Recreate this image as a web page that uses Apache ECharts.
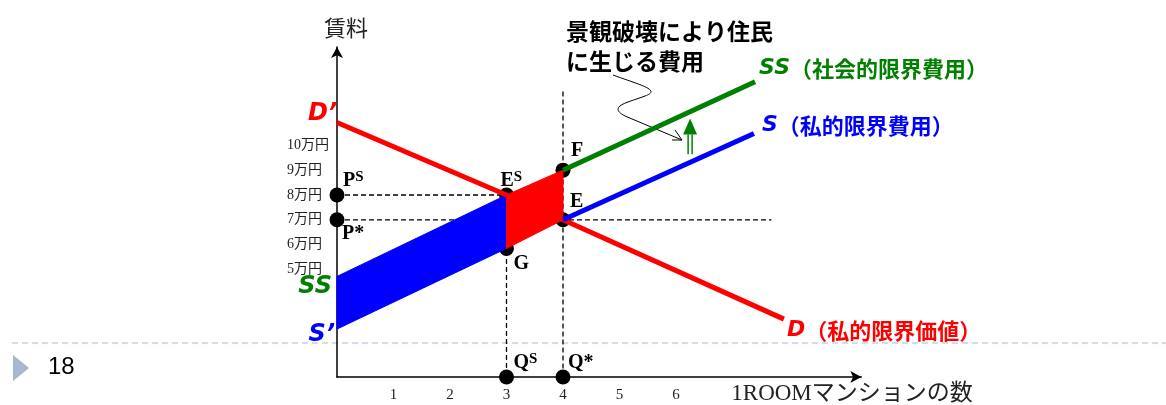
<!DOCTYPE html>
<html lang="ja">
<head>
<meta charset="utf-8">
<title>外部不経済と1ROOMマンション</title>
<script src="https://cdn.jsdelivr.net/npm/echarts@6/dist/echarts.min.js"></script>
<style>
html, body { margin: 0; padding: 0; background: #fff; }
#chart { width: 1166px; height: 405px; }
</style>
</head>
<body>
<div id="chart"></div>
<script>
// 1ROOMマンションの数
const xTicks = [1, 2, 3, 4, 5, 6]
// 賃料（万円）
const yTicks = [5, 6, 7, 8, 9, 10]
const yMin = 0.67
const yMax = 13.96
const xMax = 9.28

// D（私的限界価値）
const qtyD = [0, 3, 4, 7.91]
const valueD = [10.92, 8, 7, 3.0]
// SS（社会的限界費用）
const qtySS = [0, 3, 4, 7.4]
const costSS = [4.72, 8, 9, 12.56]
// S（私的限界費用）
const qtyS = [0, 3, 4, 7.38]
const costS = [2.6, 5.85, 7, 10.48]

// 点
const pointNames = ['PS', 'P*', 'ES', 'G', 'F', 'E', 'QS', 'Q*']
const pointQty = [0, 0, 3, 3, 4, 4, 3, 4]
const pointRent = [8, 7, 8, 5.85, 9, 7, yMin, yMin]

// 補助線（破線）
const guideQty = [[0, 3], [0, 7.69], [3, 3], [4, 4]]
const guideRent = [[8, 8], [7, 7], [8, yMin], [12.17, yMin]]

// 外部費用の矢印（緑）
const shiftArrowQty = 6.25
const shiftArrowRent = [9.64, 10.44, 11.08]

const serifBold = { fontFamily: 'Liberation Serif', fontWeight: 'bold', color: '#000' }
const pointLabels = {
  'PS': { text: '{m|P}{s|S}', offset: [6, -14] },
  'P*': { text: '{m|P*}', offset: [5, 14] },
  'ES': { text: '{m|E}{s|S}', offset: [-6, -14] },
  'G': { text: '{m|G}', offset: [7, 15] },
  'F': { text: '{m|F}', offset: [8, -19] },
  'E': { text: '{m|E}', offset: [7, -18] },
  'QS': { text: '{m|Q}{s|S}', offset: [7, -14] },
  'Q*': { text: '{m|Q*}', offset: [5, -14] }
}

const pair = (xs, ys) => xs.map((x, i) => [x, ys[i]])

function rightLabel(latin, rest, color, offset) {
  return {
    show: true,
    formatter: '{i|' + latin + '}{n|' + rest + '}',
    distance: 0,
    offset: offset,
    color: color,
    rich: {
      i: { fontFamily: 'DejaVu Sans', fontStyle: 'italic', fontWeight: 'bold', fontSize: 22, color: color },
      n: { fontFamily: 'Noto Sans CJK JP', fontWeight: 'bold', fontSize: 22, color: color }
    }
  }
}

function edgeLabel(text, color, offset) {
  return {
    show: true,
    position: 'inside',
    align: 'right',
    verticalAlign: 'middle',
    formatter: text,
    offset: offset,
    color: color,
    opacity: 1,
    fontFamily: 'DejaVu Sans',
    fontStyle: 'italic',
    fontWeight: 'bold',
    fontSize: 24
  }
}

function areaSeries(pts, color) {
  return {
    type: 'custom',
    z: 3,
    silent: true,
    data: [0],
    renderItem: (params, api) => ({
      type: 'polygon',
      shape: { points: pts.map(p => api.coord(p)) },
      style: { fill: color, stroke: color, lineWidth: 1 }
    })
  }
}

const ss = pair(qtySS, costSS)
const s = pair(qtyS, costS)

const series = []
guideQty.forEach((q, i) => {
  series.push({
    type: 'line',
    data: pair(q, guideRent[i]),
    symbol: 'none',
    silent: true,
    z: 1,
    lineStyle: { color: '#000', width: 1.3, type: [5, 3] }
  })
})
series.push({
  type: 'line',
  data: pair(qtyD, valueD),
  symbol: 'none',
  lineStyle: { color: '#ff0000', width: 5 },
  endLabel: rightLabel('D', '（私的限界価値）', '#ff0000', [3, 11])
})
series.push({
  type: 'line',
  data: ss.slice(2),
  symbol: 'none',
  lineStyle: { color: '#008000', width: 5 },
  endLabel: rightLabel('SS', '（社会的限界費用）', '#008000', [4, -13])
})
series.push({
  type: 'line',
  data: s.slice(2),
  symbol: 'none',
  lineStyle: { color: '#0000ff', width: 5 },
  endLabel: rightLabel('S', '（私的限界費用）', '#0000ff', [8, -8])
})
// 縦軸側のラベル
series.push({
  type: 'scatter',
  symbolSize: 0,
  silent: true,
  itemStyle: { opacity: 1 },
  data: [
    { value: [qtyD[0], valueD[0]], label: edgeLabel('D’', '#ff0000', [0, -9]) },
    { value: ss[0], label: edgeLabel('SS', '#008000', [-5, 10]) },
    { value: s[0], label: edgeLabel('S’', '#0000ff', [-2, 6]) }
  ]
})
// 点
series.push({
  type: 'scatter',
  symbol: 'circle',
  symbolSize: 15,
  itemStyle: { color: '#000', opacity: 1 },
  z: 2,
  data: pointNames.map((n, i) => ({
    value: [pointQty[i], pointRent[i]],
    label: {
      show: true,
      position: 'inside',
      align: 'left',
      verticalAlign: 'middle',
      formatter: pointLabels[n].text,
      offset: pointLabels[n].offset,
      rich: {
        m: Object.assign({ fontSize: 20, lineHeight: 22 }, serifBold),
        s: Object.assign({ fontSize: 15, lineHeight: 15, verticalAlign: 'top' }, serifBold)
      }
    }
  }))
})
// 死荷重・外部費用の面
series.push(areaSeries([ss[0], ss[1], s[1], s[0]], '#0000ff'))
series.push(areaSeries([ss[1], ss[2], s[2], s[1]], '#ff0000'))

const option = {
  animation: false,
  backgroundColor: '#fff',
  grid: { left: 337, top: 47, width: 524.3, height: 332.3 },
  xAxis: {
    type: 'value',
    min: 0,
    max: xMax,
    axisLine: {
      show: true,
      onZero: false,
      symbol: ['none', 'arrow'],
      symbolSize: [9, 11],
      lineStyle: { color: '#000', width: 1.5 }
    },
    axisTick: { show: false },
    splitLine: { show: false },
    axisLabel: {
      customValues: xTicks,
      margin: 11,
      fontFamily: 'Liberation Serif',
      fontSize: 15,
      color: '#222'
    },
    name: '1ROOMマンションの数',
    nameLocation: 'end',
    nameGap: -130,
    nameTextStyle: {
      fontFamily: '"Liberation Serif", "Noto Sans CJK JP"',
      fontSize: 23,
      color: '#222',
      align: 'left',
      verticalAlign: 'top',
      padding: [5, 0, 0, 0]
    }
  },
  yAxis: {
    type: 'value',
    min: yMin,
    max: yMax,
    axisLine: {
      show: true,
      onZero: false,
      symbol: ['none', 'arrow'],
      symbolSize: [9, 11],
      lineStyle: { color: '#000', width: 1.5 }
    },
    axisTick: { show: false },
    splitLine: { show: false },
    axisLabel: {
      customValues: yTicks,
      formatter: v => v + '万円',
      align: 'left',
      margin: 50,
      fontFamily: '"Liberation Serif", "Noto Sans CJK JP"',
      fontSize: 14,
      color: '#222'
    },
    name: '賃料',
    nameLocation: 'end',
    nameGap: 8,
    nameTextStyle: {
      fontFamily: 'Noto Sans CJK JP',
      fontSize: 22,
      color: '#222',
      padding: [0, 0, 0, 18]
    }
  },
  series: series
}

const chart = echarts.init(document.getElementById('chart'))
chart.setOption(option)

// 注記とスライドの飾り
const px = p => chart.convertToPixel({ gridIndex: 0 }, p)
const a0 = px([shiftArrowQty, shiftArrowRent[0]])
const a1 = px([shiftArrowQty, shiftArrowRent[1]])
const a2 = px([shiftArrowQty, shiftArrowRent[2]])
chart.setOption({
  graphic: [
    { type: 'line', silent: true, shape: { x1: 12, y1: 343, x2: 1166, y2: 343 },
      style: { stroke: '#a7bbd3', lineWidth: 1, lineDash: [6, 4] } },
    { type: 'polygon', silent: true, shape: { points: [[13, 355], [29, 368], [13, 381]] },
      style: { fill: '#a5b8cf' } },
    { type: 'text', silent: true, x: 48, y: 367,
      style: { text: '18', fontFamily: 'Liberation Sans', fontSize: 24, fill: '#000', verticalAlign: 'middle' } },
    { type: 'text', silent: true, x: 566, y: 17,
      style: { text: '景観破壊により住民\nに生じる費用', fontFamily: 'Noto Sans CJK JP', fontWeight: 'bold',
        fontSize: 23, lineHeight: 29.5, fill: '#000' } },
    { type: 'bezierCurve', silent: true,
      shape: { x1: 613, y1: 75, cpx1: 640, cpy1: 85, cpx2: 662, cpy2: 90, x2: 645, y2: 96 },
      style: { stroke: '#000', fill: null, lineWidth: 1 } },
    { type: 'bezierCurve', silent: true,
      shape: { x1: 645, y1: 96, cpx1: 630, cpy1: 102, cpx2: 606, cpy2: 106, x2: 625, y2: 116 },
      style: { stroke: '#000', fill: null, lineWidth: 1 } },
    { type: 'polyline', silent: true, shape: { points: [[625, 116], [682, 140]] },
      style: { stroke: '#000', fill: null, lineWidth: 1 } },
    { type: 'polyline', silent: true, shape: { points: [[675, 130], [682, 140], [672, 140]] },
      style: { stroke: '#000', fill: null, lineWidth: 1 } },
    { type: 'line', silent: true, shape: { x1: a0[0] - 2, y1: a0[1], x2: a1[0] - 2, y2: a1[1] },
      style: { stroke: '#008000', lineWidth: 1.5 } },
    { type: 'line', silent: true, shape: { x1: a0[0] + 2, y1: a0[1], x2: a1[0] + 2, y2: a1[1] },
      style: { stroke: '#008000', lineWidth: 1.5 } },
    { type: 'polygon', silent: true,
      shape: { points: [[a1[0] - 7, a1[1]], [a1[0] + 7, a1[1]], [a2[0], a2[1]]] },
      style: { fill: '#008000' } }
  ]
})
</script>
</body>
</html>
